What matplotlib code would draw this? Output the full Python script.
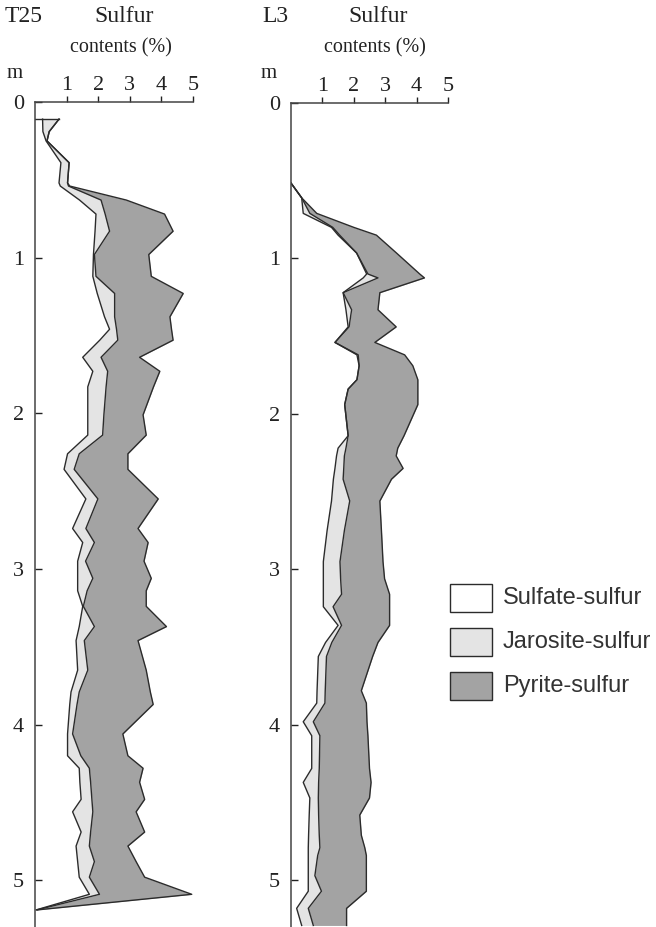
import matplotlib
matplotlib.use("Agg")
import matplotlib.pyplot as plt
import numpy as np
from matplotlib.patches import Rectangle

# depth (m) and sulfur contents (%) per fraction
t25_depth = [0.11, 0.19, 0.25, 0.39, 0.52, 0.54, 0.63, 0.72, 0.83, 0.98, 1.12, 1.23, 1.38, 1.46,
             1.53, 1.64, 1.73, 1.83, 2.01, 2.14, 2.26, 2.36, 2.55, 2.74, 2.83, 2.95, 3.06, 3.14,
             3.24, 3.37, 3.46, 3.65, 3.79, 3.87, 4.06, 4.20, 4.28, 4.37, 4.48, 4.56, 4.69, 4.78,
             4.88, 4.98, 5.09, 5.19]
t25_sulfate = [0.24, 0.25, 0.35, 0.82, 0.76, 0.80, 1.41, 1.93, 1.90, 1.85, 1.83, 1.97, 2.20, 2.36,
               2.05, 1.51, 1.83, 1.67, 1.67, 1.67, 1.03, 0.92, 1.61, 1.19, 1.51, 1.35, 1.35, 1.35,
               1.51, 1.40, 1.30, 1.35, 1.14, 1.10, 1.03, 1.03, 1.40, 1.42, 1.46, 1.19, 1.46, 1.30,
               1.35, 1.40, 1.72, 0.04]
t25_jarosite = [0.52, 0.20, 0.03, 0.26, 0.27, 0.26, 0.68, 0.29, 0.46, 0.03, 0.10, 0.55, 0.32, 0.22,
                0.57, 0.58, 0.47, 0.58, 0.51, 0.47, 0.37, 0.32, 0.38, 0.42, 0.37, 0.25, 0.48, 0.30,
                0.02, 0.48, 0.26, 0.32, 0.26, 0.23, 0.16, 0.42, 0.32, 0.34, 0.34, 0.64, 0.30, 0.42,
                0.53, 0.32, 0.32, 0.02]
t25_pyrite = [0.00, 0.00, 0.00, 0.00, 0.00, 0.04, 0.80, 1.88, 2.01, 1.72, 1.75, 2.17, 1.75, 1.74,
              1.75, 1.22, 1.65, 1.50, 1.24, 1.38, 1.54, 1.70, 1.91, 1.65, 1.70, 1.85, 1.85, 1.87,
              1.99, 2.28, 1.70, 1.85, 2.25, 2.41, 1.59, 1.49, 1.70, 1.55, 1.67, 1.37, 1.71, 1.22,
              1.32, 1.75, 2.92, 0.02]

l3_depth = [0.515, 0.61, 0.71, 0.80, 0.85, 0.965, 1.10, 1.125, 1.22, 1.33, 1.44, 1.54, 1.62, 1.69,
            1.78, 1.84, 1.94, 2.14, 2.22, 2.27, 2.35, 2.42, 2.56, 2.75, 2.95, 3.06, 3.16, 3.24,
            3.36, 3.47, 3.56, 3.78, 3.86, 3.98, 4.07, 4.28, 4.37, 4.47, 4.58, 4.71, 4.79, 4.84,
            4.97, 5.07, 5.18, 5.29]
l3_sulfate = [0.00, 0.34, 0.39, 1.29, 1.50, 2.09, 2.41, 2.30, 1.66, 1.75, 1.82, 1.40, 2.10, 2.17,
              2.10, 1.82, 1.71, 1.82, 1.50, 1.45, 1.40, 1.35, 1.29, 1.15, 1.03, 1.03, 1.03, 1.03,
              1.50, 1.10, 0.87, 0.83, 0.82, 0.39, 0.66, 0.66, 0.39, 0.60, 0.58, 0.56, 0.55, 0.55,
              0.55, 0.55, 0.18, 0.34]
l3_jarosite = [0.00, 0.00, 0.21, 0.04, 0.05, 0.00, 0.04, 0.47, 0.00, 0.18, 0.03, 0.00, 0.04, 0.00,
               0.00, 0.00, 0.00, 0.00, 0.25, 0.25, 0.28, 0.31, 0.58, 0.55, 0.53, 0.55, 0.58, 0.31,
               0.11, 0.20, 0.26, 0.26, 0.26, 0.32, 0.26, 0.24, 0.49, 0.27, 0.30, 0.34, 0.37, 0.30,
               0.21, 0.42, 0.37, 0.37]
l3_pyrite = [0.00, 0.00, 0.22, 0.67, 1.17, 1.27, 1.65, 1.48, 1.17, 0.84, 1.50, 1.27, 1.48, 1.71,
             1.94, 2.22, 2.33, 1.78, 1.65, 1.65, 1.89, 1.54, 0.96, 1.18, 1.37, 1.40, 1.53, 1.80,
             1.53, 1.47, 1.47, 1.15, 1.32, 1.71, 1.53, 1.60, 1.67, 1.63, 1.31, 1.34, 1.43, 1.55,
             1.64, 1.43, 1.22, 1.06]

legend_labels = ["Sulfate-sulfur", "Jarosite-sulfur", "Pyrite-sulfur"]

W, H = 656, 927
SERIF = ["Liberation Serif", "DejaVu Serif"]
SANS = ["Liberation Sans", "DejaVu Sans"]
INK = "#222222"
LINE = "#2b2b2b"
JAR_COL = "#e4e4e4"
PYR_COL = "#a3a3a3"


def fx(px):
    return px / W


def fy(py):
    return 1 - py / H


def profile(ax, depth, sulfate, jarosite, pyrite):
    d = np.asarray(depth)
    s = np.asarray(sulfate)
    sj = s + np.asarray(jarosite)
    tot = sj + np.asarray(pyrite)
    ax.fill_betweenx(d, s, sj, color=JAR_COL, lw=0)
    ax.fill_betweenx(d, sj, tot, color=PYR_COL, lw=0)
    for line in (s, sj, tot):
        ax.plot(line, d, color=LINE, lw=1.0)
    if tot[0] > 0:
        ax.plot([0, tot[0]], [d[0], d[0]], color=LINE, lw=1.0)

    ax.set_xlim(0, 5)
    ax.set_ylim(5.3, 0)
    ax.xaxis.tick_top()
    ax.set_xticks([1, 2, 3, 4, 5])
    ax.set_yticks([0, 1, 2, 3, 4, 5])
    ax.tick_params(axis="x", direction="out", length=4, width=1, pad=1,
                   labelsize=16, colors=INK)
    ax.tick_params(axis="y", direction="in", length=5, width=1, pad=8,
                   labelsize=16, colors=INK)
    for lab in ax.get_xticklabels() + ax.get_yticklabels():
        lab.set_family(SERIF)
    for side in ("right", "bottom"):
        ax.spines[side].set_visible(False)
    for side in ("left", "top"):
        ax.spines[side].set_color("#444444")
        ax.spines[side].set_linewidth(1.1)
    ax.patch.set_alpha(0)


fig = plt.figure(figsize=(W / 100, H / 100), dpi=100)

ax1 = fig.add_axes([fx(35), 0, fx(158), fy(102)])
profile(ax1, t25_depth, t25_sulfate, t25_jarosite, t25_pyrite)
ax2 = fig.add_axes([fx(291), 0, fx(157), fy(103)])
profile(ax2, l3_depth, l3_sulfate, l3_jarosite, l3_pyrite)

for name, x_name, x_mid, x_m in (("T25", 5, 124, 15), ("L3", 262, 378, 269)):
    fig.text(fx(x_name), fy(17), name, family=SERIF, fontsize=17, color=INK,
             ha="left", va="center")
    fig.text(fx(x_mid), fy(17), "Sulfur", family=SERIF, fontsize=17, color=INK,
             ha="center", va="center")
    fig.text(fx(x_mid - 3), fy(48), "contents (%)", family=SERIF, fontsize=14.5, color=INK,
             ha="center", va="center")
    fig.text(fx(x_m), fy(73), "m", family=SERIF, fontsize=15, color=INK,
             ha="center", va="center")

# legend, drawn in figure pixels
colors = ["white", JAR_COL, PYR_COL]
for i, (lab, col) in enumerate(zip(legend_labels, colors)):
    top = 584 + i * 44
    fig.add_artist(Rectangle((fx(450), fy(top + 28)), fx(42), 28 / H, transform=fig.transFigure,
                             facecolor=col, edgecolor=LINE, lw=1.0))
    fig.text(fx(503), fy(top + 14), lab, family=SANS, fontsize=17, color="#333333",
             ha="left", va="center")

fig.savefig("out.png", dpi=100)
